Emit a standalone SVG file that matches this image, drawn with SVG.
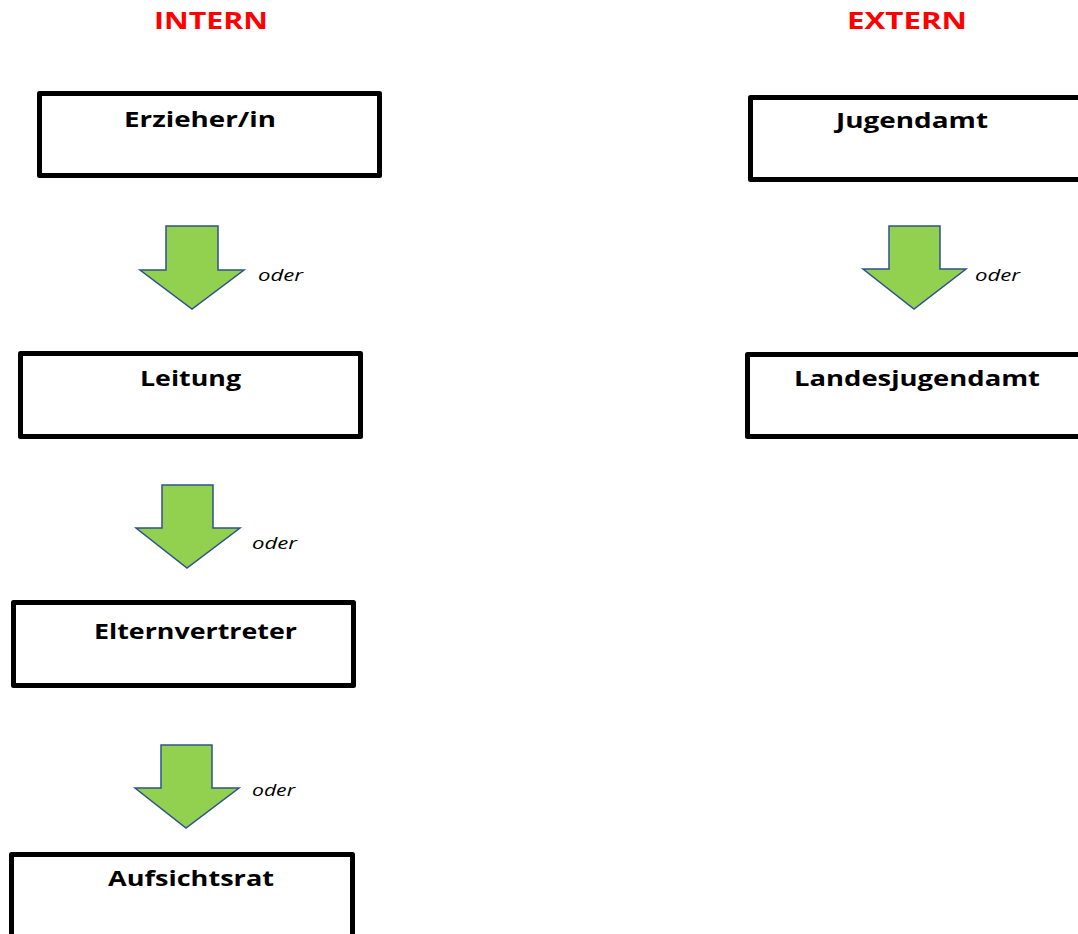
<svg xmlns="http://www.w3.org/2000/svg" width="1078" height="934" viewBox="0 0 1078 934">
<defs>
<style>
.box{fill:#fff;stroke:#000;stroke-width:5;stroke-linejoin:round}
.lbl{font-family:"Open Sans","Liberation Sans",sans-serif;font-weight:bold;font-size:21px;fill:#000}
.title{font-family:"Open Sans","Liberation Sans",sans-serif;font-weight:bold;font-size:24px;fill:#f00}
.arr{fill:#92d050;stroke:#2f528f;stroke-width:1.5;stroke-linejoin:miter}
.oder{font-family:"Open Sans","Liberation Sans",sans-serif;font-style:italic;font-size:17px;fill:#000}
</style>
</defs>
<rect width="1078" height="934" fill="#fff"/>
<text class="title" x="154" y="29" textLength="114" lengthAdjust="spacingAndGlyphs">INTERN</text>
<text class="title" x="847" y="29" textLength="120" lengthAdjust="spacingAndGlyphs">EXTERN</text>
<g id="erzieher"><rect class="box" x="39.5" y="93.5" width="340" height="82"/><text class="lbl" x="124" y="127" textLength="152" lengthAdjust="spacingAndGlyphs">Erzieher/in</text></g>
<g id="leitung"><rect class="box" x="20.5" y="353.5" width="340" height="83"/><text class="lbl" x="140" y="386" textLength="101" lengthAdjust="spacingAndGlyphs">Leitung</text></g>
<g id="elternvertreter"><rect class="box" x="13.5" y="602.5" width="340" height="83"/><text class="lbl" x="94" y="639" textLength="203" lengthAdjust="spacingAndGlyphs">Elternvertreter</text></g>
<g id="aufsichtsrat"><rect class="box" x="11.5" y="854.5" width="341" height="90"/><text class="lbl" x="108" y="886" textLength="166" lengthAdjust="spacingAndGlyphs">Aufsichtsrat</text></g>
<g id="jugendamt"><rect class="box" x="750.5" y="97.5" width="340" height="82"/><text class="lbl" x="836" y="128" textLength="152" lengthAdjust="spacingAndGlyphs">Jugendamt</text></g>
<g id="landesjugendamt"><rect class="box" x="747.5" y="354.5" width="340" height="82"/><text class="lbl" x="794" y="386" textLength="246" lengthAdjust="spacingAndGlyphs">Landesjugendamt</text></g>
<g id="connectors">
<polygon class="arr" points="166,226 218,226 218,270 244,270 192,309 140,270 166,270"/>
<polygon class="arr" points="162,485 213,485 213,528 240,528 187,568 136,528 162,528"/>
<polygon class="arr" points="161,745 212,745 212,788 239,788 186,828 135,788 161,788"/>
<polygon class="arr" points="889,226 940,226 940,269 966,269 914,309 863,269 889,269"/>
<text class="oder" x="258" y="281" textLength="45" lengthAdjust="spacingAndGlyphs">oder</text>
<text class="oder" x="252" y="549" textLength="45" lengthAdjust="spacingAndGlyphs">oder</text>
<text class="oder" x="252" y="796" textLength="43" lengthAdjust="spacingAndGlyphs">oder</text>
<text class="oder" x="975" y="281" textLength="45" lengthAdjust="spacingAndGlyphs">oder</text>
</g>
</svg>
